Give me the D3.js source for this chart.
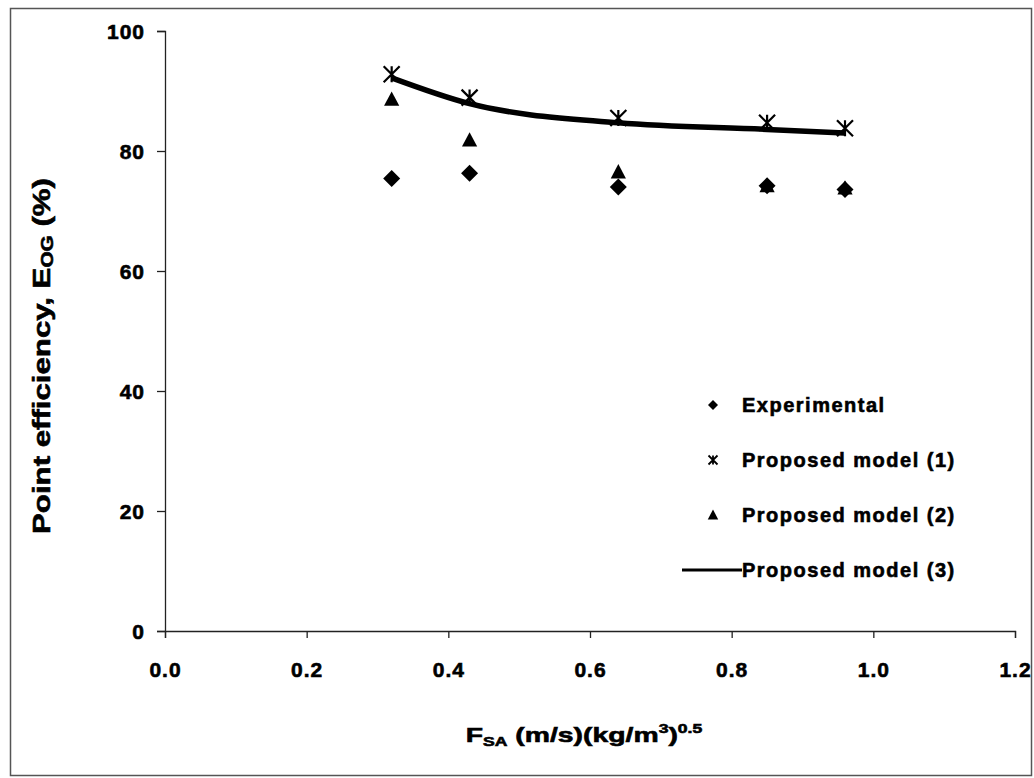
<!DOCTYPE html>
<html lang="en">
	<head>
		<meta charset="utf-8">
		<title>Point efficiency vs F factor</title>
		<script src="https://cdn.jsdelivr.net/npm/d3@7"></script>
		<style type="text/css">
			body { margin: 0; background: #fff; }
			text { font-family: "Liberation Sans", Arial, sans-serif; font-weight: bold; fill: #000; stroke: #000; stroke-width: 0.6px; }
		</style>
	</head>
	<body>
		<script type="text/javascript">
			//Width and height
			var w = 1034;
			var h = 778;

			//Data
			var fsa = [0.32, 0.43, 0.64, 0.85, 0.96];
			var experimental = [75.4, 76.3, 74.0, 74.2, 73.6];
			var model1 = [92.8, 88.9, 85.5, 84.7, 83.8];
			var model2 = [88.6, 81.8, 76.5, 74.2, 73.8];
			var model3 = [92.2, 87.9, 84.7, 83.6, 83.0];
			var xTicks = [0, 0.2, 0.4, 0.6, 0.8, 1.0, 1.2];
			var yTicks = [0, 20, 40, 60, 80, 100];
			var legendNames = ["Experimental", "Proposed model (1)", "Proposed model (2)", "Proposed model (3)"];

			//scales
			var xScale = d3.scaleLinear()
							.domain([0, 1.2])
							.range([165, 1015]);
			var yScale = d3.scaleLinear()
							.domain([0, 100])
							.range([631, 31]);

			var svg = d3.select("body")
						.append("svg")
						.attr("width", w)
						.attr("height", h);

			//outer frame
			svg.append("rect")
				.attr("x", 10.5)
				.attr("y", 8.5)
				.attr("width", 1021)
				.attr("height", 767)
				.attr("fill", "white")
				.attr("stroke", "#555")
				.attr("stroke-width", 1.5);

			//axes
			var xAxis = d3.axisBottom(xScale)
							.tickValues(xTicks)
							.tickSize(7)
							.tickPadding(24)
							.tickFormat(d3.format(".1f"));
			var yAxis = d3.axisLeft(yScale)
							.tickValues(yTicks)
							.tickSize(8)
							.tickPadding(12)
							.tickFormat(d3.format("d"));

			var gx = svg.append("g")
				.attr("class", "x axis")
				.attr("transform", "translate(0," + yScale(0) + ")")
				.call(xAxis);
			var gy = svg.append("g")
				.attr("class", "y axis")
				.attr("transform", "translate(" + xScale(0) + ",0)")
				.call(yAxis);

			[gx, gy].forEach(function(g) {
				g.select(".domain").attr("stroke", "#222").attr("stroke-width", 1.3);
				g.selectAll(".tick line").attr("stroke", "#222").attr("stroke-width", 1.3);
				g.selectAll(".tick text")
					.attr("font-size", "21px")
					.attr("font-family", "'Liberation Sans', Arial, sans-serif")
					.attr("font-weight", "bold")
					.attr("letter-spacing", "1px")
					.attr("fill", "#000");
			});
			gy.selectAll(".tick text").attr("dy", "0.35em");

			//model 3 line
			var line = d3.line()
						.x(function(d, i) { return xScale(fsa[i]); })
						.y(function(d) { return yScale(d); })
						.curve(d3.curveMonotoneX);
			svg.append("path")
				.attr("d", line(model3))
				.attr("fill", "none")
				.attr("stroke", "#000")
				.attr("stroke-width", 5.5);

			//marker shapes
			function diamond(r) {
				return "M0," + (-r) + "L" + r + ",0L0," + r + "L" + (-r) + ",0Z";
			}
			function triangle(r) {
				return "M0," + (-r) + "L" + (r * 0.95) + "," + (r * 0.8) + "L" + (-r * 0.95) + "," + (r * 0.8) + "Z";
			}
			function star(r) {
				return "M" + (-r) + "," + (-r) + "L" + r + "," + r +
					"M" + r + "," + (-r) + "L" + (-r) + "," + r +
					"M0," + (-r) + "L0," + r;
			}

			//experimental
			svg.append("g").selectAll("path")
				.data(experimental)
				.enter()
				.append("path")
				.attr("transform", function(d, i) { return "translate(" + xScale(fsa[i]) + "," + yScale(d) + ")"; })
				.attr("d", diamond(8.5))
				.attr("fill", "#000");

			//model 2
			svg.append("g").selectAll("path")
				.data(model2)
				.enter()
				.append("path")
				.attr("transform", function(d, i) { return "translate(" + xScale(fsa[i]) + "," + yScale(d) + ")"; })
				.attr("d", triangle(8))
				.attr("fill", "#000");

			//model 1
			svg.append("g").selectAll("path")
				.data(model1)
				.enter()
				.append("path")
				.attr("transform", function(d, i) { return "translate(" + xScale(fsa[i]) + "," + yScale(d) + ")"; })
				.attr("d", star(8))
				.attr("fill", "none")
				.attr("stroke", "#000")
				.attr("stroke-width", 2.2);

			//legend
			var legend = svg.append("g")
							.attr("transform", "translate(713,405)");
			var rows = legend.selectAll("g")
							.data(legendNames)
							.enter()
							.append("g")
							.attr("transform", function(d, i) { return "translate(0," + (i * 55) + ")"; });
			rows.append("text")
				.attr("x", 29)
				.attr("dy", "0.35em")
				.attr("font-size", "20px")
				.attr("letter-spacing", "1.5px")
				.text(function(d) { return d; });
			rows.filter(function(d, i) { return i === 0; })
				.append("path").attr("d", diamond(5)).attr("fill", "#000");
			rows.filter(function(d, i) { return i === 1; })
				.append("path").attr("d", star(4.5)).attr("fill", "none").attr("stroke", "#000").attr("stroke-width", 1.8);
			rows.filter(function(d, i) { return i === 2; })
				.append("path").attr("d", triangle(5.5)).attr("fill", "#000");
			rows.filter(function(d, i) { return i === 3; })
				.append("line")
				.attr("x1", -31).attr("x2", 29)
				.attr("stroke", "#000")
				.attr("stroke-width", 3);

			//y axis title
			var yTitle = svg.append("text")
							.attr("transform", "translate(50,356) rotate(-90) scale(1.3,1)")
							.attr("text-anchor", "middle")
							.attr("font-size", "24px");
			yTitle.append("tspan").text("Point efficiency, E");
			yTitle.append("tspan").attr("font-size", "16px").attr("dy", "3").text("OG");
			yTitle.append("tspan").attr("dy", "-3").text(" (%)");

			//x axis title
			var xTitle = svg.append("text")
							.attr("transform", "translate(584,742) scale(1.35,1)")
							.attr("text-anchor", "middle")
							.attr("font-size", "21px");
			xTitle.append("tspan").text("F");
			xTitle.append("tspan").attr("font-size", "13px").attr("dy", "4").text("SA");
			xTitle.append("tspan").attr("dy", "-4").text(" (m/s)(kg/m");
			xTitle.append("tspan").attr("font-size", "13px").attr("dy", "-9").text("3");
			xTitle.append("tspan").attr("dy", "9").text(")");
			xTitle.append("tspan").attr("font-size", "13px").attr("dy", "-9").text("0.5");
		</script>
	</body>
</html>
